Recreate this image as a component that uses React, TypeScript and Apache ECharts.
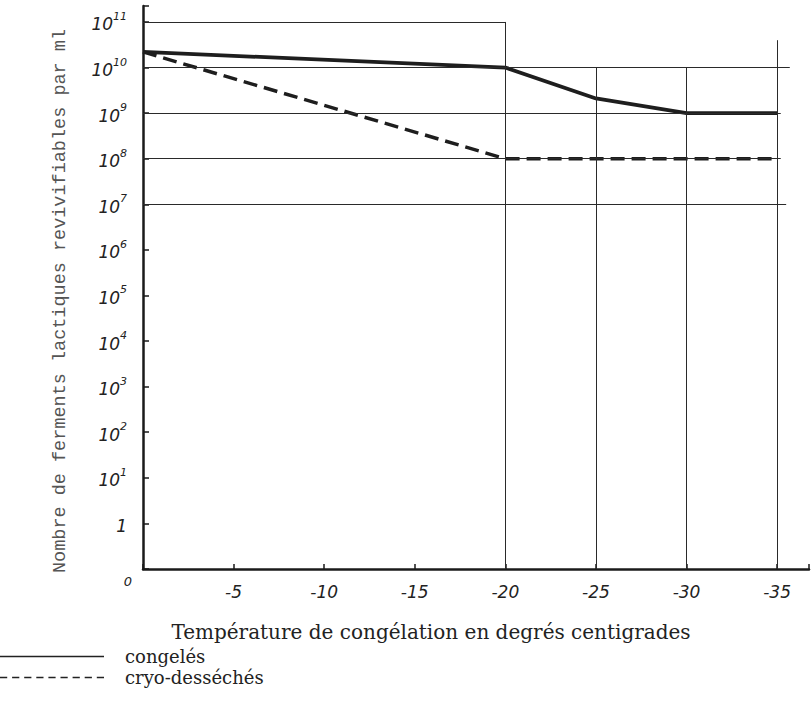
import React, { useEffect, useRef } from "react";
import * as echarts from "echarts";

// Temperatures (°C) and counts of viable lactic ferments per ml
const temperatures = [0, -20, -25, -30, -35];
const congeles = [2.2e10, 1e10, 2.1e9, 1e9, 1e9];
const cryoDesseches = [2.2e10, 1e8, 1e8, 1e8, 1e8];
const seriesNames = ["congelés", "cryo-desséchés"];

// Y axis: decades, with "0" drawn one step below 1
const yExponents = [-1, 0, 1, 2, 3, 4, 5, 6, 7, 8, 9, 10, 11];
const xTicks = [0, -5, -10, -15, -20, -25, -30, -35];

// Partial grid lines (temperature, exponent)
const hGrid = [
  { y: 11, from: 0, to: -20 },
  { y: 10, from: 0, to: -35.7 },
  { y: 9, from: 0, to: -35.2 },
  { y: 8, from: 0, to: -35.2 },
  { y: 7, from: 0, to: -35.5 },
];
const vGrid = [
  { x: -20, from: -1, to: 11 },
  { x: -25, from: -1, to: 10 },
  { x: -30, from: -1, to: 10 },
  { x: -35, from: -1, to: 10.6 },
];

const yTitle = "Nombre de ferments lactiques revivifiables par ml";
const xTitle = "Température de congélation en degrés centigrades";

const HAND = "'DejaVu Sans', sans-serif";
const SERIF = "'DejaVu Serif', 'Liberation Serif', serif";

const solidIcon = "path://M0,6 L104,6 L104,7.3 L0,7.3 Z";
const dashedIcon =
  "path://" +
  [0, 1, 2, 3, 4, 5, 6, 7, 8]
    .map((i) => {
      const a = i * 11.75;
      const b = a + 7;
      return `M${a},6 L${b},6 L${b},7.3 L${a},7.3 Z`;
    })
    .join(" ");

export default function App() {
  const ref = useRef<HTMLDivElement>(null);
  useEffect(() => {
    if (!ref.current) return;
    const chart = echarts.init(ref.current, undefined, { renderer: "svg" });
    const toPt = (t: number, v: number) => [-t, v > 0 ? Math.log10(v) : -1];
    const gridSegs: any[] = [];
    hGrid.forEach((g) =>
      gridSegs.push([{ coord: [-g.from, g.y] }, { coord: [-g.to, g.y] }])
    );
    vGrid.forEach((g) =>
      gridSegs.push([{ coord: [-g.x, g.from] }, { coord: [-g.x, g.to] }])
    );
    chart.setOption({
      animation: false,
      backgroundColor: "#ffffff",
      grid: { left: 143, top: 6, right: 0, bottom: 132, containLabel: false },
      xAxis: {
        type: "value",
        min: 0,
        max: 36.76,
        interval: 5,
        axisLine: { show: true, onZero: false, lineStyle: { color: "#1a1a1a", width: 2.5 } },
        axisTick: { show: true, inside: true, length: 5, lineStyle: { color: "#1a1a1a", width: 1.5 } },
        splitLine: { show: false },
        axisLabel: {
          margin: 14,
          color: "#222",
          fontFamily: HAND,
          fontStyle: "italic",
          fontSize: 17,
          formatter: (v: number) => (xTicks.indexOf(-v) > 0 ? String(-v) : ""),
        },
      },
      yAxis: {
        type: "value",
        min: -1,
        max: 11.35,
        interval: 1,
        axisLine: { show: true, onZero: false, lineStyle: { color: "#1a1a1a", width: 2.5 } },
        axisTick: { show: true, inside: true, length: 6, lineStyle: { color: "#1a1a1a", width: 1.5 } },
        splitLine: { show: false },
        axisLabel: {
          margin: 16,
          color: "#222",
          formatter: (v: number) => {
            if (yExponents.indexOf(v) < 0 || v === -1) return "";
            if (v === 0) return "{b|1}";
            return "{b|10}{s|" + v + "}";
          },
          rich: {
            b: { fontFamily: HAND, fontStyle: "italic", fontSize: 17, color: "#222", lineHeight: 22, verticalAlign: "bottom" },
            s: { fontFamily: HAND, fontStyle: "italic", fontSize: 11, color: "#222", lineHeight: 22, verticalAlign: "top" },
          },
        },
      },
      legend: {
        orient: "vertical",
        left: 0,
        top: 646,
        height: 60,
        padding: 0,
        itemWidth: 104,
        itemHeight: 14,
        itemGap: 0,
        textStyle: { fontFamily: SERIF, fontSize: 18, color: "#222", padding: [0, 0, 0, 16], lineHeight: 21 },
        data: [
          { name: seriesNames[0], icon: solidIcon, itemStyle: { color: "#222" } },
          { name: seriesNames[1], icon: dashedIcon, itemStyle: { color: "#222" } },
        ],
      },
      series: [
        {
          name: seriesNames[0],
          type: "line",
          symbol: "none",
          data: temperatures.map((t, i) => toPt(t, congeles[i])),
          lineStyle: { color: "#1e1e1e", width: 3.8 },
          itemStyle: { color: "#1e1e1e" },
          markLine: {
            silent: true,
            symbol: ["none", "none"],
            label: { show: false },
            lineStyle: { color: "#2a2a2a", width: 1, type: "solid" },
            data: gridSegs,
          },
          z: 3,
        },
        {
          name: seriesNames[1],
          type: "line",
          symbol: "none",
          data: temperatures.map((t, i) => toPt(t, cryoDesseches[i])),
          lineStyle: { color: "#1e1e1e", width: 3.5, type: [14, 7] },
          itemStyle: { color: "#1e1e1e" },
          z: 3,
        },
      ],
      graphic: [
        {
          type: "text",
          x: 60,
          y: 301,
          rotation: Math.PI / 2,
          style: {
            text: yTitle,
            fontFamily: "'Liberation Mono', monospace",
            fontSize: 18.5,
            fill: "#555",
            align: "center",
            verticalAlign: "middle",
          },
        },
        {
          type: "text",
          x: 431,
          y: 632,
          style: {
            text: xTitle,
            fontFamily: SERIF,
            fontSize: 20,
            fill: "#222",
            align: "center",
            verticalAlign: "middle",
          },
        },
        {
          type: "text",
          x: 128,
          y: 581,
          style: {
            text: "0",
            fontFamily: HAND,
            fontStyle: "italic",
            fontSize: 13,
            fill: "#222",
            align: "center",
            verticalAlign: "middle",
          },
        },
      ],
    });
    return () => chart.dispose();
  }, []);
  return <div ref={ref} style={{ width: 812, height: 701, position: "absolute", left: 0, top: 0 }} />;
}
